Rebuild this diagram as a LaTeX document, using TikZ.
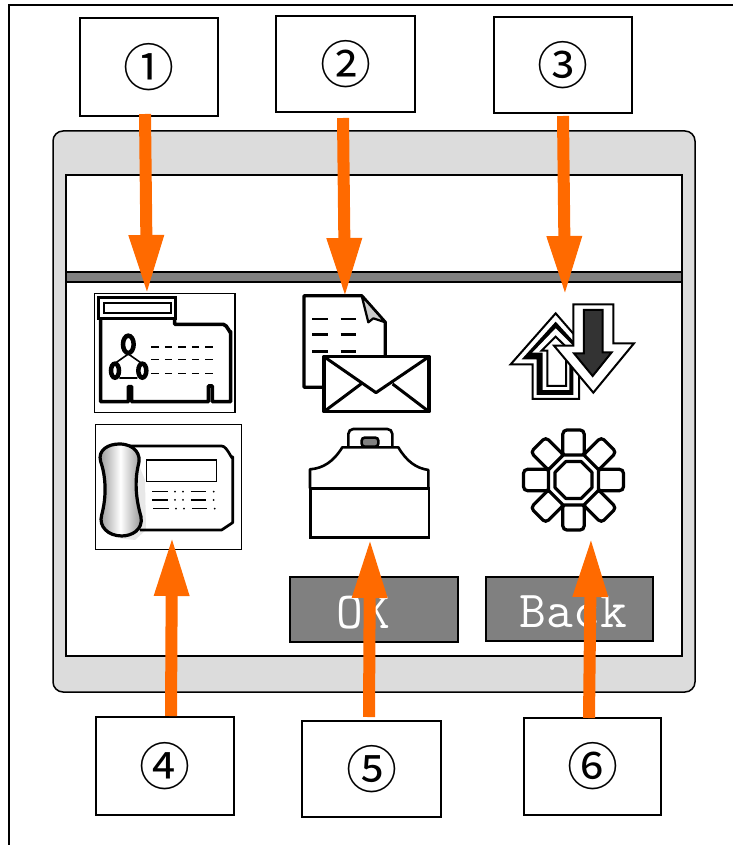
\documentclass[tikz,border=0pt]{standalone}
\usepackage{fontspec}
\usepackage{xcolor}
\usetikzlibrary{arrows.meta,calc}
\newfontfamily\circfont{Noto Sans CJK JP}
\definecolor{pointer}{HTML}{FF6A00}
\definecolor{panel}{HTML}{DCDCDC}
\definecolor{softkey}{HTML}{808080}
\tikzset{
    numbox/.style={draw=black, line width=1.5pt, fill=white, outer sep=0pt, inner sep=0pt, font=\circfont\fontsize{51}{60}\selectfont},
    keybox/.style={draw=black, line width=1.5pt, fill=softkey, text=white, outer sep=0pt, inner sep=0pt, text height=37pt, text depth=0pt, font=\ttfamily\fontsize{52}{56}\selectfont},
    pointerline/.style={pointer, line width=12pt, -{Triangle[width=32pt,length=60pt]}},
    iconline/.style={line width=2pt, line join=miter},
}
\begin{document}
\begin{tikzpicture}[x=1pt, y=-1pt]
    \useasboundingbox (0,0) rectangle (733,845);

    % Page frame
    \draw[line width=1.6pt] (9,845) -- (9,5) -- (733,5);

    % Device and screen
    \draw[line width=1.5pt, fill=panel, rounded corners=10pt] (53,131) rectangle (695,692);
    \draw[line width=1.5pt, fill=white] (66,175) rectangle (682,656);
    \draw[line width=1.3pt, fill=softkey] (66,272) rectangle (682,282);

    % Soft keys
    \node[keybox, minimum width=168pt, minimum height=65pt] (okkey) at (374,609.5) {\hspace*{-22pt}OK};
    \node[keybox, minimum width=167pt, minimum height=64pt] (backkey) at (569.5,609) {\hspace*{8pt}Back};

    % Number boxes
    \node[numbox, minimum width=138pt, minimum height=98pt] (box1) at (149,67) {①};
    \node[numbox, minimum width=139pt, minimum height=96pt] (box2) at (345.5,64) {②};
    \node[numbox, minimum width=138pt, minimum height=96pt] (box3) at (563,65) {③};
    \node[numbox, minimum width=138pt, minimum height=98pt] (box4) at (165,766) {④};
    \node[numbox, minimum width=139pt, minimum height=96pt] (box5) at (371.5,769) {⑤};
    \node[numbox, minimum width=137pt, minimum height=97pt] (box6) at (592.5,766.5) {⑥};

    % Phone book icon
    \begin{scope}[shift={(80,280)}, x=0.3333pt, y=-0.3333pt]
        \draw[line width=1.3pt] (44,40) rectangle (465,398);
        \draw[line width=3.6pt, line join=round] (62,115) -- (62,365) -- (145,365) -- (145,320) -- (155,320) -- (155,365) -- (385,365) -- (385,318) -- (397,318) -- (397,365) -- (452,365) -- (452,155) to[out=-90,in=0] (430,133) -- (284,133) -- (284,115);
        \draw[line width=3pt] (57,52) rectangle (288,115);
        \draw[line width=1.8pt] (72,70) rectangle (272,100);
        \draw[line width=1.6pt] (105,250) -- (145,222) -- (185,250) (118,294) -- (172,294);
        \foreach \cx/\cy/\ovalw/\ovalh in {145/193/16/26, 105/272/12/21, 187/272/12/21} {
            \draw[line width=4.5pt, fill=white] (\cx,\cy) ellipse ({\ovalw} and {\ovalh});
        }
        \foreach \rowy in {201,238,280} {
            \draw[line width=1.5pt, dash pattern=on 7.5pt off 6pt] (214,\rowy) -- (408,\rowy);
        }
    \end{scope}

    % Desk phone icon
    \begin{scope}[shift={(80,280)}, x=0.3333pt, y=-0.3333pt]
        \draw[line width=1.3pt] (47,433) rectangle (484,808);
        \fill[gray!18] (170,540) -- (195,600) -- (198,750) -- (165,780) -- (120,775) -- (170,720) -- cycle;
        \draw[line width=2.7pt, line join=round] (150,498) -- (425,498) to[out=0,in=-90] (458,530) -- (458,728) -- (425,750) -- (180,750);
        \draw[line width=1.5pt] (200,540) rectangle (410,605);
        \foreach \rowy/\dx in {635/0,660/0,686/3} {
            \draw[line width=1.5pt] (217+\dx,\rowy) -- (263+\dx,\rowy) (333+\dx,\rowy) -- (378+\dx,\rowy);
            \foreach \keyx in {285,309,401} {
                \fill (\keyx+\dx,\rowy) circle (3);
            }
        }
        \draw[line width=3.2pt, left color=gray!90, right color=gray!90, middle color=white]
            (118,492) .. controls (165,492) and (185,525) .. (175,555)
            .. controls (162,610) and (170,665) .. (183,710)
            .. controls (190,750) and (155,768) .. (125,768)
            .. controls (85,768) and (55,740) .. (65,705)
            .. controls (80,650) and (78,590) .. (62,545)
            .. controls (52,510) and (85,492) .. (118,492) -- cycle;
    \end{scope}

    % Document and envelope icon
    \begin{scope}[shift={(280,280)}, x=0.3333pt, y=-0.3333pt]
        \draw[line width=3.2pt, line join=round] (135,322) -- (72,322) -- (72,47) -- (245,47) -- (316,127) -- (316,235);
        \draw[line width=2.2pt, fill=gray!40, line join=round] (245,47) -- (265,127) -- (280,115) -- (316,127) -- cycle;
        \foreach \rowy in {117,163,215} {
            \draw[line width=2.5pt] (97,\rowy) -- (145,\rowy) (182,\rowy) -- (227,\rowy);
        }
        \draw[line width=3.6pt, fill=white, line join=round] (132,230) rectangle (447,395);
        \draw[line width=3pt, line join=round] (132,230) -- (288,338) -- (447,230) (132,395) -- (243,312) (447,395) -- (338,312);
    \end{scope}

    % Briefcase icon
    \begin{scope}[shift={(280,280)}, x=0.3333pt, y=-0.3333pt]
        \draw[line width=2.6pt, rounded corners=5pt] (205,500) -- (205,447) -- (337,447) -- (337,500);
        \draw[line width=2.6pt, fill=softkey, rounded corners=3pt] (245,473) rectangle (295,500);
        \draw[line width=2.6pt, line join=round] (90,625) -- (90,568) .. controls (130,565) and (160,545) .. (187,502) -- (355,502) .. controls (380,545) and (410,565) .. (445,570) -- (445,625);
        \draw[line width=2.8pt] (92,625) rectangle (447,773);
    \end{scope}

    % Up and down arrows icon
    \begin{scope}[shift={(490,280)}, x=0.3333pt, y=-0.3333pt]
        \draw[iconline, fill=white] (62,253) -- (197,100) -- (330,253) -- (267,253) -- (267,357) -- (128,357) -- (128,253) -- cycle;
        \fill[black] (95,238) -- (197,125) -- (300,238) -- (250,238) -- (250,345) -- (140,345) -- (140,238) -- cycle;
        \fill[white] (127,218) -- (197,145) -- (270,218) -- (238,218) -- (238,330) -- (158,330) -- (158,218) -- cycle;
        \draw[iconline, fill=white] (155,212) -- (197,170) -- (240,212) -- (228,212) -- (228,318) -- (172,318) -- (172,212) -- cycle;
        \draw[iconline, fill=white] (250,73) -- (370,73) -- (370,190) -- (432,190) -- (310,338) -- (192,197) -- (250,197) -- cycle;
        \draw[iconline, fill=black!80] (282,90) -- (338,90) -- (338,217) -- (365,217) -- (308,288) -- (252,220) -- (282,220) -- cycle;
    \end{scope}

    % Gear icon
    \begin{scope}[shift={(573.5,480)}, x=0.3333pt, y=-0.3333pt]
        \foreach \a in {0,45,...,315} {
            \draw[line width=3.2pt, rounded corners=4pt, rotate=\a, fill=white] (-32,-150) rectangle (32,-70);
        }
        \draw[line width=3.2pt, fill=white, line join=round] (22.5:81) -- (67.5:81) -- (112.5:81) -- (157.5:81) -- (202.5:81) -- (247.5:81) -- (292.5:81) -- (337.5:81) -- cycle;
        \draw[line width=3.2pt, fill=white, line join=round] (22.5:60) -- (67.5:60) -- (112.5:60) -- (157.5:60) -- (202.5:60) -- (247.5:60) -- (292.5:60) -- (337.5:60) -- cycle;
    \end{scope}

    % Arrow tips
    \coordinate (tip1) at (147,295);
    \coordinate (tip2) at (345,298);
    \coordinate (tip3) at (565,296);
    \coordinate (tip4) at (172,536);
    \coordinate (tip5) at (370,538);
    \coordinate (tip6) at (591,537);

    % Pointers
    \draw[pointerline] ([shift={(-4,-2)}]box1.south) -- (tip1);
    \draw[pointerline] ([shift={(-2.5,6)}]box2.south) -- (tip2);
    \draw[pointerline] ([shift={(0,3)}]box3.south) -- (tip3);
    \draw[pointerline] ([shift={(6,-1)}]box4.north) -- (tip4);
    \draw[pointerline] ([shift={(-2.5,-4)}]box5.north) -- (tip5);
    \draw[pointerline] ([shift={(-3.5,0)}]box6.north) -- (tip6);
\end{tikzpicture}
\end{document}
